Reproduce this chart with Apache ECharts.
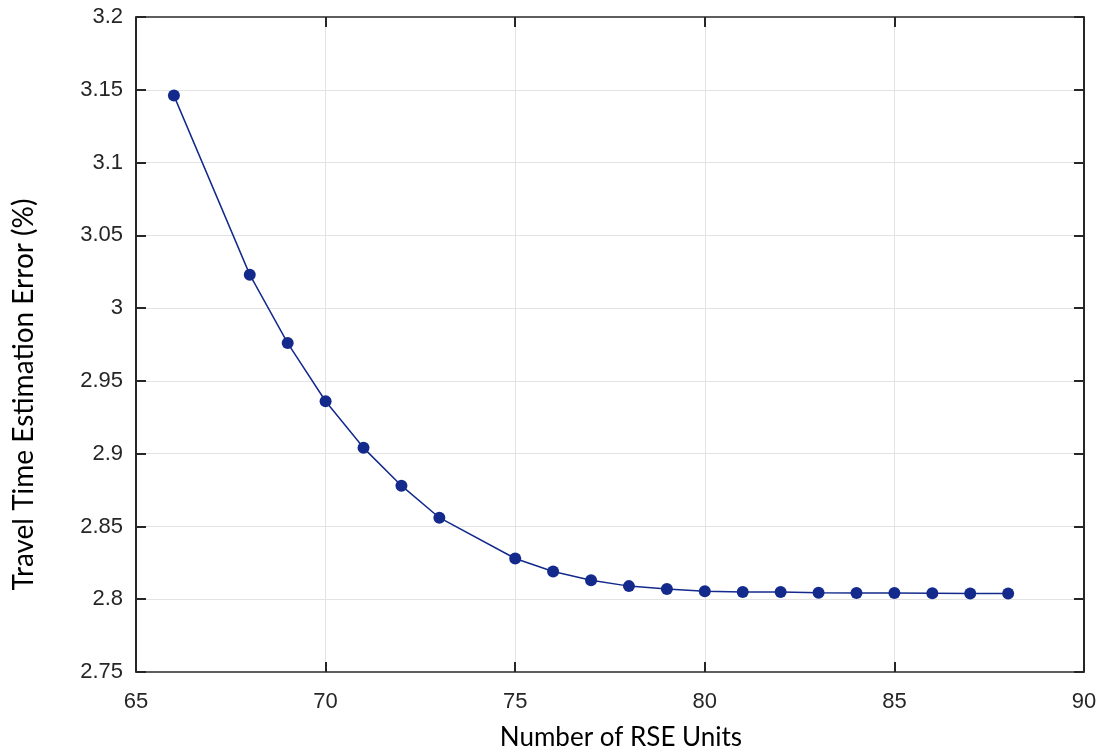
<!DOCTYPE html>
<html>
<head>
<meta charset="utf-8">
<script src="https://cdn.jsdelivr.net/npm/echarts@6/dist/echarts.min.js"></script>
<style>html,body{margin:0;padding:0;background:#fff}#c{width:1106px;height:752px}</style>
</head>
<body>
<div id="c"></div>
<script>
const rseUnits = [66, 68, 69, 70, 71, 72, 73, 75, 76, 77, 78, 79, 80, 81, 82, 83, 84, 85, 86, 87, 88];
const errorPct = [3.146, 3.023, 2.976, 2.936, 2.904, 2.878, 2.856, 2.828, 2.819, 2.813, 2.809, 2.807, 2.8055, 2.805, 2.8049, 2.8045, 2.8043, 2.8042, 2.8041, 2.804, 2.804];
const xTitle = 'Number of RSE Units';
const yTitle = 'Travel Time Estimation Error (%)';

const chart = echarts.init(document.getElementById('c'), null, {renderer: 'canvas'});
const tickFont = {color: '#262626', fontSize: 22, fontFamily: 'Liberation Sans, Arial, sans-serif'};
const yLine = {show: true, lineStyle: {color: '#262626', width: 2}};
const xLine = {show: true, lineStyle: {color: '#5e5e5e', width: 2}};
const tick = {show: true, inside: true, length: 10, lineStyle: {color: '#262626', width: 2}};
const grid = {show: true, lineStyle: {color: '#e3e3e3', width: 1}};
const titleFont = {color: '#000', fontFamily: 'Lato, Open Sans, sans-serif'};

chart.setOption({
  animation: false,
  grid: {left: 136, right: 22, top: 17, bottom: 80, containLabel: false, outerBoundsMode: 'none'},
  xAxis: [{
    type: 'value', min: 65, max: 90, interval: 5,
    axisLine: xLine, axisTick: tick, splitLine: grid,
    axisLabel: Object.assign({margin: 19}, tickFont),
    name: xTitle, nameLocation: 'middle', nameGap: 53,
    nameTextStyle: Object.assign({fontSize: 26, padding: [0, 0, 0, 22]}, titleFont)
  }, {
    type: 'value', position: 'top', min: 65, max: 90, interval: 5,
    axisLine: xLine, axisTick: tick, splitLine: {show: false}, axisLabel: {show: false}
  }],
  yAxis: [{
    type: 'value', min: 2.75, max: 3.2, interval: 0.05,
    axisLine: yLine, axisTick: tick, splitLine: grid,
    axisLabel: Object.assign({margin: 13, formatter: v => String(+v.toFixed(2))}, tickFont),
    name: yTitle, nameLocation: 'middle', nameGap: 98, nameRotate: 90,
    nameTextStyle: Object.assign({fontSize: 28, padding: [0, 100, 0, 0]}, titleFont)
  }, {
    type: 'value', position: 'right', min: 2.75, max: 3.2, interval: 0.05,
    axisLine: yLine, axisTick: tick, splitLine: {show: false}, axisLabel: {show: false}
  }],
  series: [{
    type: 'line',
    data: rseUnits.map((x, i) => [x, errorPct[i]]),
    symbol: 'circle', symbolSize: 12,
    itemStyle: {color: '#132a8c'},
    lineStyle: {color: '#132a8c', width: 1.5}
  }]
});
</script>
</body>
</html>
